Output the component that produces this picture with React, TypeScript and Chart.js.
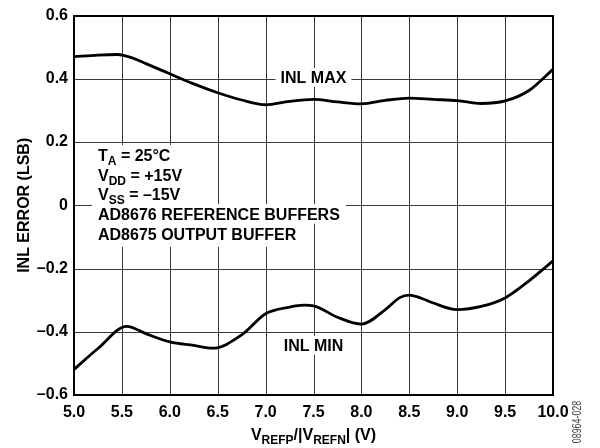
import React, { useEffect, useRef } from "react";
import { Chart, registerables } from "chart.js";

Chart.register(...registerables);

// ---- data ----
const maxX = [5.0, 5.25, 5.45, 5.6, 5.75, 6.0, 6.25, 6.5, 6.75, 7.0, 7.25, 7.5, 7.75, 8.0, 8.25, 8.5, 8.75, 9.0, 9.25, 9.5, 9.75, 10.0];
const maxY = [0.470, 0.475, 0.477, 0.467, 0.448, 0.416, 0.384, 0.356, 0.333, 0.318, 0.329, 0.335, 0.327, 0.321, 0.332, 0.339, 0.335, 0.331, 0.322, 0.330, 0.363, 0.430];

const minX = [5.0, 5.25, 5.55, 5.75, 6.0, 6.25, 6.45, 6.75, 7.0, 7.25, 7.4, 7.5, 7.75, 8.0, 8.25, 8.4, 8.5, 8.6, 8.75, 9.0, 9.25, 9.5, 9.75, 10.0];
const minY = [-0.519, -0.453, -0.383, -0.406, -0.432, -0.443, -0.452, -0.41, -0.343, -0.322, -0.316, -0.318, -0.354, -0.376, -0.33, -0.292, -0.284, -0.291, -0.309, -0.33, -0.32, -0.293, -0.239, -0.176];

const seriesLabels = ["INL MAX", "INL MIN"];

type Part = { t: string; sub?: boolean };
const noteLines: Part[][] = [
  [{ t: "T" }, { t: "A", sub: true }, { t: " = 25°C" }],
  [{ t: "V" }, { t: "DD", sub: true }, { t: " = +15V" }],
  [{ t: "V" }, { t: "SS", sub: true }, { t: " = –15V" }],
  [{ t: "AD8676 REFERENCE BUFFERS" }],
  [{ t: "AD8675 OUTPUT BUFFER" }],
];
const xTitle: Part[] = [{ t: "V" }, { t: "REFP", sub: true }, { t: "/|V" }, { t: "REFN", sub: true }, { t: "| (V)" }];
const yTitle = "INL ERROR (LSB)";
const figureId = "08964-028";

const FONT = '"Liberation Sans", Arial, Helvetica, sans-serif';

function partsWidth(ctx: CanvasRenderingContext2D, parts: Part[], size: number, sub: number) {
  let w = 0;
  for (const p of parts) {
    ctx.font = `bold ${p.sub ? sub : size}px ${FONT}`;
    w += ctx.measureText(p.t).width;
  }
  return w;
}
function drawParts(ctx: CanvasRenderingContext2D, parts: Part[], x: number, y: number, size: number, sub: number, dy: number) {
  let cx = x;
  ctx.textAlign = "left";
  ctx.textBaseline = "alphabetic";
  for (const p of parts) {
    ctx.font = `bold ${p.sub ? sub : size}px ${FONT}`;
    ctx.fillText(p.t, cx, p.sub ? y + dy : y);
    cx += ctx.measureText(p.t).width;
  }
}

const gridPlugin = {
  id: "gridFrame",
  beforeDatasetsDraw(chart: any) {
    const ctx: CanvasRenderingContext2D = chart.ctx;
    const xs = chart.scales.x;
    const ys = chart.scales.y;
    const a = chart.chartArea;
    ctx.save();
    ctx.strokeStyle = "#3a3a3a";
    ctx.lineWidth = 1;
    ctx.beginPath();
    for (const t of xs.ticks) {
      const p = Math.round(xs.getPixelForValue(t.value)) + 0.5;
      if (p <= a.left + 1 || p >= a.right - 1) continue;
      ctx.moveTo(p, a.top);
      ctx.lineTo(p, a.bottom);
    }
    for (const t of ys.ticks) {
      const p = Math.round(ys.getPixelForValue(t.value)) + 0.5;
      if (p <= a.top + 1 || p >= a.bottom - 1) continue;
      ctx.moveTo(a.left, p);
      ctx.lineTo(a.right, p);
    }
    ctx.stroke();
    ctx.strokeStyle = "#000";
    ctx.lineWidth = 2;
    ctx.strokeRect(Math.round(a.left), Math.round(a.top), Math.round(a.right) - Math.round(a.left), Math.round(a.bottom) - Math.round(a.top));
    ctx.restore();
  },
};

const decorPlugin = {
  id: "decor",
  afterDraw(chart: any) {
    const ctx: CanvasRenderingContext2D = chart.ctx;
    const xs = chart.scales.x;
    const ys = chart.scales.y;
    const area = chart.chartArea;
    ctx.save();
    ctx.fillStyle = "#000";

    // note block
    const nx = 98;
    const b0 = 161;
    const step = 19.7;
    noteLines.forEach((ln, i) => {
      const b = b0 + i * step;
      const w = partsWidth(ctx, ln, 16, 12);
      ctx.fillStyle = "#fff";
      const bottom = i === noteLines.length - 1 ? b + 7 : b + step - 16;
      ctx.fillRect(nx - 6, b - 16, w + 12, bottom - (b - 16));
    });
    ctx.fillStyle = "#000";
    noteLines.forEach((ln, i) => {
      const b = b0 + i * step;
      drawParts(ctx, ln, nx, b, 16, 12, 4);
    });

    // series labels
    const cx = xs.getPixelForValue(7.5);
    const yMax = ys.getPixelForValue(0.4) + 4;
    const yMin = ys.getPixelForValue(-0.4) + 19;
    ctx.font = `bold 16px ${FONT}`;
    [[seriesLabels[0], yMax], [seriesLabels[1], yMin]].forEach(([t, b]: any) => {
      const w = ctx.measureText(t).width;
      ctx.fillStyle = "#fff";
      ctx.fillRect(cx - w / 2 - 5, b - 15, w + 10, 19);
      ctx.fillStyle = "#000";
      ctx.textAlign = "center";
      ctx.textBaseline = "alphabetic";
      ctx.fillText(t, cx, b);
    });

    // x title
    const tw = partsWidth(ctx, xTitle, 16, 12);
    const tcx = (area.left + area.right) / 2;
    drawParts(ctx, xTitle, tcx - tw / 2, 439.5, 16, 12, 4);

    // y title
    ctx.save();
    ctx.translate(28.5, (area.top + area.bottom) / 2);
    ctx.rotate(-Math.PI / 2);
    ctx.font = `bold 16px ${FONT}`;
    ctx.textAlign = "center";
    ctx.textBaseline = "alphabetic";
    ctx.fillText(yTitle, 0, 0);
    ctx.restore();

    // figure id
    ctx.save();
    ctx.translate(578, 422);
    ctx.rotate(-Math.PI / 2);
    ctx.scale(0.74, 1);
    ctx.font = `12px ${FONT}`;
    ctx.fillStyle = "#444";
    ctx.textAlign = "center";
    ctx.textBaseline = "middle";
    ctx.fillText(figureId, 0, 0);
    ctx.restore();

    ctx.restore();
  },
};

export default function App() {
  const ref = useRef<HTMLCanvasElement>(null);
  useEffect(() => {
    if (!ref.current) return;
    const tickFont = { family: FONT, size: 16, weight: "bold" as const };
    const chart = new Chart(ref.current, {
      type: "line",
      data: {
        datasets: [
          {
            label: seriesLabels[0],
            data: maxX.map((x, i) => ({ x, y: maxY[i] })),
            borderColor: "#000",
            borderWidth: 2.8,
            pointRadius: 0,
            cubicInterpolationMode: "monotone",
            fill: false,
          },
          {
            label: seriesLabels[1],
            data: minX.map((x, i) => ({ x, y: minY[i] })),
            borderColor: "#000",
            borderWidth: 2.8,
            pointRadius: 0,
            cubicInterpolationMode: "monotone",
            fill: false,
          },
        ],
      },
      options: {
        animation: false,
        responsive: false,
        devicePixelRatio: 1,
        layout: { padding: { left: 0, right: 47, top: 13, bottom: 0 } },
        plugins: { legend: { display: false }, tooltip: { enabled: false }, title: { display: false } },
        scales: {
          x: {
            type: "linear",
            min: 5,
            max: 10,
            ticks: {
              stepSize: 0.5,
              autoSkip: false,
              maxRotation: 0,
              color: "#000",
              font: tickFont,
              padding: 8,
              callback: (v: any) => Number(v).toFixed(1),
            },
            grid: { display: false, drawTicks: false },
            border: { display: false },
            afterFit: (s: any) => {
              s.height = 53;
            },
          },
          y: {
            type: "linear",
            min: -0.6,
            max: 0.6,
            ticks: {
              stepSize: 0.2,
              color: "#000",
              font: tickFont,
              padding: 6,
              callback: (v: any) => {
                const r = Math.round(Number(v) * 10) / 10;
                if (r === 0) return "0";
                return (r < 0 ? "–" : "") + Math.abs(r).toFixed(1);
              },
            },
            grid: { display: false, drawTicks: false },
            border: { display: false },
            afterFit: (s: any) => {
              s.width = 74;
            },
          },
        },
      } as any,
      plugins: [gridPlugin, decorPlugin],
    });
    return () => chart.destroy();
  }, []);
  return (
    <div style={{ position: "fixed", left: 0, top: 0, width: 600, height: 448, background: "#fff" }}>
      <canvas ref={ref} width={600} height={448} style={{ display: "block", width: 600, height: 448 }} />
    </div>
  );
}
